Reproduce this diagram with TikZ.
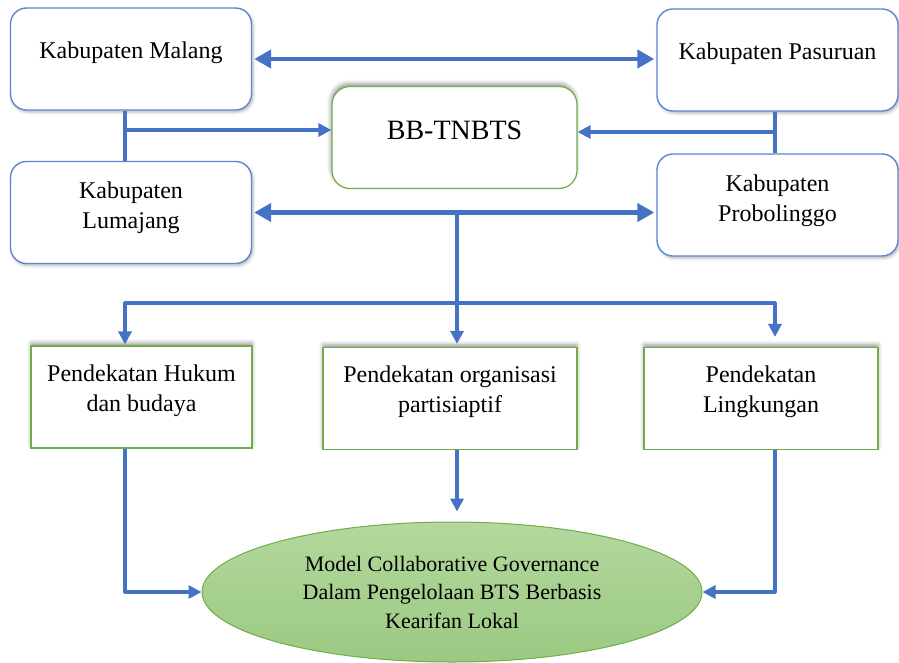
\documentclass[tikz,border=0pt]{standalone}
\usepackage{fontspec}
\setmainfont{Liberation Serif}
\usetikzlibrary{arrows.meta,shapes.geometric,shadows.blur}
\definecolor{arrowblue}{HTML}{4472C4}
\definecolor{boxblue}{HTML}{5B87D3}
\definecolor{boxgreen}{HTML}{70AD47}
\definecolor{ovaltop}{HTML}{B4D89E}
\definecolor{ovalbot}{HTML}{9BC982}
\begin{document}
\begin{tikzpicture}[x=1pt,y=-1pt,
  kabbox/.style={rectangle, rounded corners=16pt, draw=boxblue, line width=1.4pt, fill=white,
    minimum width=241pt, minimum height=102pt, align=center,
    font=\fontsize{24}{30}\selectfont, text depth=14pt,
    blur shadow={shadow xshift=1.5pt, shadow yshift=-2pt, shadow blur radius=3pt, shadow opacity=30}},
  centrebox/.style={rectangle, rounded corners=18pt, draw=boxgreen, line width=1.2pt, fill=white,
    minimum width=245pt, minimum height=102pt, font=\fontsize{28}{32}\selectfont, text depth=14pt,
    blur shadow={shadow xshift=-1pt, shadow yshift=3pt, shadow blur radius=4pt, shadow opacity=40}},
  approach/.style={rectangle, draw=boxgreen, line width=1.2pt, fill=white,
    minimum height=102pt, align=center, font=\fontsize{24}{30}\selectfont, text depth=18pt,
    blur shadow={shadow xshift=0pt, shadow yshift=3pt, shadow blur radius=4pt, shadow opacity=40}},
  model/.style={ellipse, draw=boxgreen, line width=1pt, top color=ovaltop, bottom color=ovalbot,
    minimum width=500pt, minimum height=140pt, inner sep=0pt, align=center,
    font=\fontsize{22}{28.5}\selectfont},
  bigarrow/.style={arrowblue, line width=4.5pt,
    {Triangle[length=17pt,width=18pt]}-{Triangle[length=17pt,width=18pt]}},
  flow/.style={arrowblue, line width=3.2pt, line join=round, -{Triangle[length=13pt,width=13pt]}},
  link/.style={arrowblue, line width=3.2pt}
]
\useasboundingbox (0,0) rectangle (899,662);

% regencies and the park authority
\node [kabbox, text depth=18pt] (malang) at (131,59) {Kabupaten Malang};
\node [kabbox, text depth=18pt] (pasuruan) at (777.5,60) {Kabupaten Pasuruan};
\node [kabbox] (lumajang) at (131,212.5) {Kabupaten\\Lumajang};
\node [kabbox] (probolinggo) at (777.5,205) {Kabupaten\\Probolinggo};
\node [centrebox] (bbtnbts) at (454.5,137.5) {BB-TNBTS};

% approaches
\node [approach, minimum width=221pt] (hukum) at (141.5,397) {Pendekatan Hukum\\dan budaya};
\node [approach, minimum width=254pt] (organisasi) at (450,398.5) {Pendekatan organisasi\\partisiaptif};
\node [approach, minimum width=234pt] (lingkungan) at (761,398.5) {Pendekatan\\Lingkungan};

% result
\node [model] (model) at (452,592) {Model Collaborative Governance\\Dalam Pengelolaan BTS Berbasis\\Kearifan Lokal};

\coordinate (westjoin) at (125,130);
\coordinate (eastjoin) at (775,132);
\coordinate (split) at (457,213);
\coordinate (bus) at (457,303);
\coordinate (busleft) at (125,303);
\coordinate (busright) at (775,303);

\draw [bigarrow, shorten <=2pt, shorten >=2pt] (malang.east) -- (malang.east -| pasuruan.west);
\draw [bigarrow, shorten <=2pt, shorten >=2pt] (lumajang.east) -- (lumajang.east -| probolinggo.west);
\draw [link] (malang.south -| westjoin) -- (lumajang.north -| westjoin);
\draw [flow] (westjoin) -- (westjoin -| bbtnbts.west);
\draw [link] (pasuruan.south -| eastjoin) -- (probolinggo.north -| eastjoin);
\draw [flow] (eastjoin) -- (eastjoin -| bbtnbts.east);

\draw [link] (split) -- (bus);
\draw [flow, shorten >=3pt] (bus) -- (bus |- organisasi.north);
\draw [flow, shorten >=1pt] (bus) -- (busleft) -- (busleft |- hukum.north);
\draw [flow, shorten >=10pt] (bus) -- (busright) -- (busright |- lingkungan.north);

\draw [flow] (hukum.south -| busleft) |- (model.west);
\draw [flow, shorten >=10pt] (organisasi.south -| bus) -- (model.north -| bus);
\draw [flow] (lingkungan.south -| busright) |- (model.east);
\end{tikzpicture}
\end{document}
